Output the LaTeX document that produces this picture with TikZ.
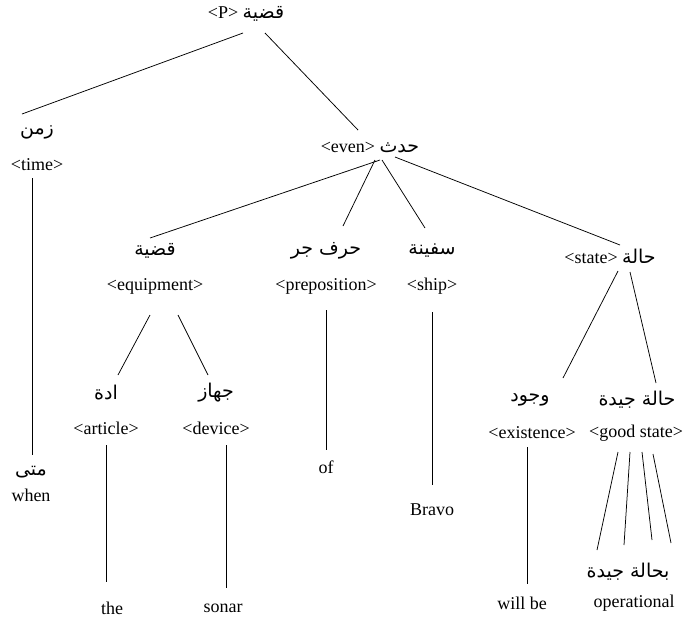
\documentclass[tikz,border=0pt]{standalone}
\usepackage{fontspec}
\setmainfont{Liberation Serif}
\newfontfamily\arabicfont[Script=Arabic]{DejaVu Sans}
\TeXXeTstate=1
\newcommand{\arsize}{\arabicfont\fontsize{19}{22}\selectfont}
\begin{document}
\begin{tikzpicture}[x=1pt,y=-1pt,
  en/.style={inner sep=0pt,font=\fontsize{18}{20}\selectfont},
  ar/.style={inner sep=0pt,font=\arsize},
  edge/.style={draw=black,line width=0.75pt}]
\useasboundingbox (0,0) rectangle (684,619);
% nodes
\node[en] (root) at (246,14) {<P> {\arsize\beginR قضية\endR}};
\node[ar] (zaman) at (37,132) {\beginR زمن\endR};
\node[en] (time) at (37,165) {<time>};
\node[ar] (mata) at (31,472) {\beginR متى\endR};
\node[en] (when) at (31,495) {when};
\node[en] (even) at (370,148) {<even> {\arsize\beginR حدث\endR}};
\node[ar] (qadiya) at (155,251) {\beginR قضية\endR};
\node[en] (equip) at (155,286) {<equipment>};
\node[ar] (harf) at (326,251) {\beginR حرف جر\endR};
\node[en] (prep) at (326,286) {<preposition>};
\node[en] (of) at (326,467) {of};
\node[ar] (safina) at (432,251) {\beginR سفينة\endR};
\node[en] (ship) at (432,286) {<ship>};
\node[en] (bravo) at (432,510) {Bravo};
\node[en] (state) at (610,256) {<state> {\arsize\beginR حالة\endR}};
\node[ar] (adat) at (106,393) {\beginR ادة\endR};
\node[en] (article) at (106,428) {<article>};
\node[en] (the) at (112,608) {the};
\node[ar] (jihaz) at (216,393) {\beginR جهاز\endR};
\node[en] (device) at (216,428) {<device>};
\node[en] (sonar) at (223,608) {sonar};
\node[ar] (wujud) at (530,400) {\beginR وجود\endR};
\node[en] (exist) at (532,433) {<existence>};
\node[en] (willbe) at (522,603) {will be};
\node[ar] (hala) at (637,400) {\beginR حالة جيدة\endR};
\node[en] (good) at (636,433) {<good state>};
\node[ar] (bihala) at (628,572) {\beginR بحالة جيدة\endR};
\node[en] (oper) at (634,603) {operational};
% connectors
\draw[edge] ([shift={(-3,19)}]root.center) -- ([shift={(-15,-18)}]zaman.center);
\draw[edge] ([shift={(19,19)}]root.center) -- ([shift={(-12,-18)}]even.center);
\draw[edge] ([shift={(-5,13)}]time.center) -- ([shift={(1,-17)}]mata.center);
\draw[edge] ([shift={(10,12)}]even.center) -- ([shift={(-5,-13)}]qadiya.center);
\draw[edge] ([shift={(5,12)}]even.center) -- ([shift={(17,-25)}]harf.center);
\draw[edge] ([shift={(12,12)}]even.center) -- ([shift={(-7,-23)}]safina.center);
\draw[edge] ([shift={(25,9)}]even.center) -- ([shift={(10,-11)}]state.center);
\draw[edge] ([shift={(-5,29)}]equip.center) -- ([shift={(12,-18)}]adat.center);
\draw[edge] ([shift={(23,29)}]equip.center) -- ([shift={(-8,-18)}]jihaz.center);
\draw[edge] ([shift={(0,24)}]prep.center) -- ([shift={(0,-17)}]of.center);
\draw[edge] ([shift={(0,26)}]ship.center) -- ([shift={(0,-25)}]bravo.center);
\draw[edge] ([shift={(0,17)}]article.center) -- ([shift={(-6,-26)}]the.center);
\draw[edge] ([shift={(10,17)}]device.center) -- ([shift={(3,-20)}]sonar.center);
\draw[edge] ([shift={(8,15)}]state.center) -- ([shift={(33,-22)}]wujud.center);
\draw[edge] ([shift={(20,16)}]state.center) -- ([shift={(19,-17)}]hala.center);
\draw[edge] ([shift={(-5,14)}]exist.center) -- ([shift={(5,-19)}]willbe.center);
\draw[edge] ([shift={(-18,19)}]good.center) -- ([shift={(-31,-22)}]bihala.center);
\draw[edge] ([shift={(-6,19)}]good.center) -- ([shift={(-4,-27)}]bihala.center);
\draw[edge] ([shift={(6,19)}]good.center) -- ([shift={(24,-32)}]bihala.center);
\draw[edge] ([shift={(17,21)}]good.center) -- ([shift={(43,-29)}]bihala.center);
\end{tikzpicture}
\end{document}
